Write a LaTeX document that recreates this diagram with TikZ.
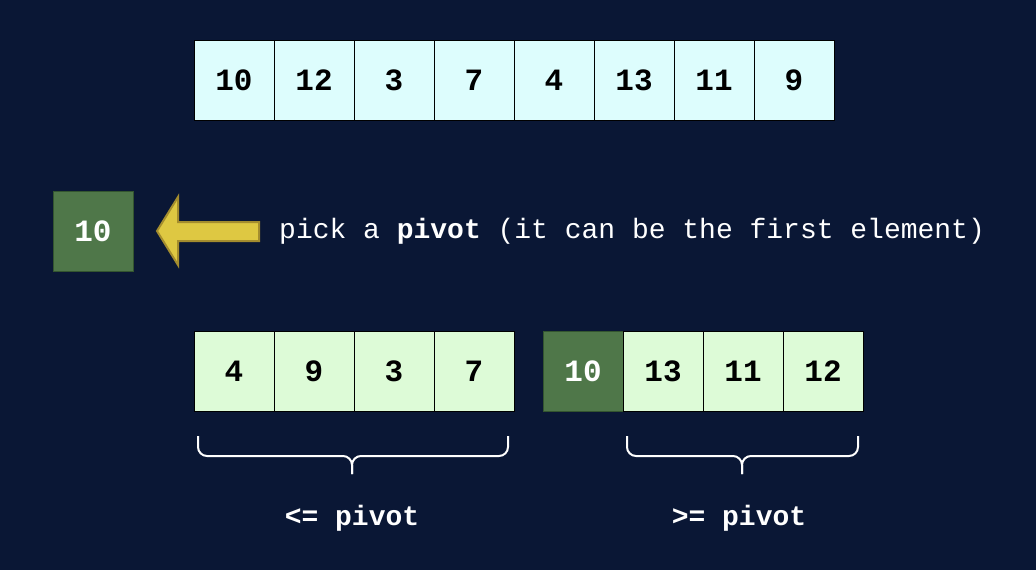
\documentclass[tikz,border=0pt]{standalone}
\usepackage{fontspec}
\setmonofont{Liberation Mono}
\definecolor{bgcol}{HTML}{0A1735}
\definecolor{topfill}{HTML}{DDFDFD}
\definecolor{lowfill}{HTML}{DDFBD7}
\definecolor{pivfill}{HTML}{4F7749}
\definecolor{pivdraw}{HTML}{33552F}
\definecolor{arrowfill}{HTML}{DEC842}
\definecolor{arrowdraw}{HTML}{A48D2E}
\newcommand\mycellfont{\ttfamily\bfseries\fontsize{31}{31}\selectfont}
\newcommand\mynotefont{\ttfamily\fontsize{28}{28}\selectfont}
\newcommand\mylblfont{\ttfamily\bfseries\fontsize{28}{28}\selectfont}
\begin{document}
\begin{tikzpicture}[x=1pt,y=-1pt,
  cell/.style={draw=black, line width=0.8pt, minimum width=80pt, minimum height=80pt, inner sep=0pt, font=\mycellfont, text=black},
  topcell/.style={cell, fill=topfill},
  lowcell/.style={cell, fill=lowfill},
  pivcell/.style={cell, fill=pivfill, draw=pivdraw, text=white},
  bracepath/.style={draw=white, line width=2pt, rounded corners=9pt},
  lbl/.style={text=white, font=\mylblfont, inner sep=0pt},
  note/.style={text=white, font=\mynotefont, inner sep=0pt, anchor=west},
  bigarrow/.style={fill=arrowfill, draw=arrowdraw, line width=2pt, line join=miter}]
\fill[bgcol] (0,0) rectangle (1036,570);
% top row
\node[topcell] (t1) at (234,80.5) {10};
\node[topcell] (t2) at (314,80.5) {12};
\node[topcell] (t3) at (394,80.5) {3};
\node[topcell] (t4) at (474,80.5) {7};
\node[topcell] (t5) at (554,80.5) {4};
\node[topcell] (t6) at (634,80.5) {13};
\node[topcell] (t7) at (714,80.5) {11};
\node[topcell] (t8) at (794,80.5) {9};
% pivot
\node[pivcell] (p) at (93,231.5) {10};
\draw[bigarrow] (157,231) -- (178,197) -- (178,222) -- (259,222) -- (259,241) -- (178,241) -- (178,265) -- cycle;
\node[note] (txt) at (279,231) {pick a \textbf{pivot} (it can be the first element)};
% bottom rows
\node[lowcell] (l1) at (234,371.5) {4};
\node[lowcell] (l2) at (314,371.5) {9};
\node[lowcell] (l3) at (394,371.5) {3};
\node[lowcell] (l4) at (474,371.5) {7};
\node[pivcell] (r0) at (583,371.5) {10};
\node[lowcell] (r1) at (663,371.5) {13};
\node[lowcell] (r2) at (743,371.5) {11};
\node[lowcell] (r3) at (823,371.5) {12};
% braces
\draw[bracepath] (198,436) -- (198,456) -- (352,456) -- (352,474);
\draw[bracepath] (508,436) -- (508,456) -- (352,456) -- (352,474);
\draw[bracepath] (627,436) -- (627,456) -- (742,456) -- (742,474);
\draw[bracepath] (858,436) -- (858,456) -- (742,456) -- (742,474);
% labels
\node[lbl] (lle) at (352,518) {<= pivot};
\node[lbl] (lge) at (739,518) {>= pivot};
\end{tikzpicture}
\end{document}
